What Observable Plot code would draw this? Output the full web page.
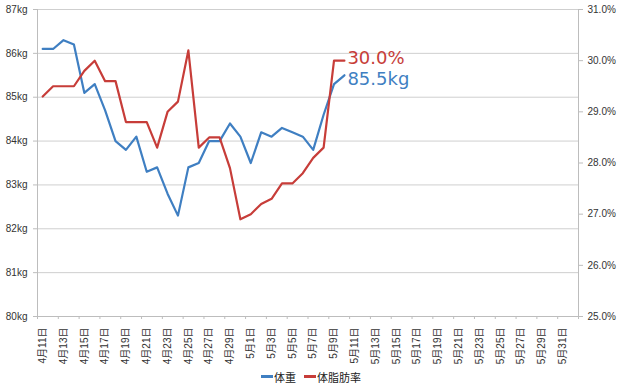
<!DOCTYPE html>
<html>
<head>
<meta charset="utf-8">
<script src="https://cdn.jsdelivr.net/npm/d3@7"></script>
<script src="https://cdn.jsdelivr.net/npm/@observablehq/plot@0.6"></script>
<style>
  html, body { margin: 0; padding: 0; background: #fff; }
  #chart { width: 620px; }
  .legend { display: flex; justify-content: center; align-items: center; height: 21px; font-family: "Liberation Sans", "Noto Sans CJK JP", sans-serif; font-size: 11px; color: #222; padding-left: 2px; }
  .legend .item { display: flex; align-items: center; margin: 0 4px; }
  .legend .sw { display: inline-block; width: 12px; height: 2.5px; margin-right: 1px; }
</style>
</head>
<body>
<div id="chart"></div>
<script>
const dateLabels = ["4月11日","4月13日","4月15日","4月17日","4月19日","4月21日","4月23日","4月25日","4月27日","4月29日","5月1日","5月3日","5月5日","5月7日","5月9日","5月11日","5月13日","5月15日","5月17日","5月19日","5月21日","5月23日","5月25日","5月27日","5月29日","5月31日"];
const dayCount = 52;
const weight = [86.1, 86.1, 86.3, 86.2, 85.1, 85.3, 84.7, 84.0, 83.8, 84.1, 83.3, 83.4, 82.8, 82.3, 83.4, 83.5, 84.0, 84.0, 84.4, 84.1, 83.5, 84.2, 84.1, 84.3, 84.2, 84.1, 83.8, 84.6, 85.3, 85.5];
const fat = [29.3, 29.5, 29.5, 29.5, 29.8, 30.0, 29.6, 29.6, 28.8, 28.8, 28.8, 28.3, 29.0, 29.2, 30.2, 28.3, 28.5, 28.5, 27.9, 26.9, 27.0, 27.2, 27.3, 27.6, 27.6, 27.8, 28.1, 28.3, 30.0, 30.0];
const kgTicks = [80, 81, 82, 83, 84, 85, 86, 87];
const pctTicks = [25, 26, 27, 28, 29, 30, 31];
const seriesNames = ["体重", "体脂肪率"];
const colors = ["#3f7fc2", "#c73d39"];

// map percentage axis (25–31) onto the kg axis (80–87)
const toKg = p => 80 + (p - 25) * 7 / 6;
const fromKg = k => 25 + (k - 80) * 6 / 7;

const chart = Plot.plot({
  width: 620,
  height: 366,
  marginLeft: 37,
  marginRight: 42,
  marginTop: 9,
  marginBottom: 50,
  style: { fontFamily: '"Liberation Sans", "Noto Sans CJK JP", sans-serif', fontSize: "10px", color: "#333", background: "#fff" },
  x: { type: "linear", domain: [-0.5, dayCount - 0.5] },
  y: { domain: [80, 87] },
  marks: [
    Plot.gridY(kgTicks, { stroke: "#cfcfcf", strokeOpacity: 1, strokeWidth: 1 }),
    Plot.ruleX([-0.5, dayCount - 0.5], { stroke: "#bdbdbd", strokeWidth: 1 }),
    Plot.ruleY([80], { stroke: "#bdbdbd", strokeWidth: 1 }),
    Plot.axisY({ ticks: kgTicks, tickFormat: d => d + "kg", tickSize: 4, tickPadding: 6, stroke: "#bdbdbd", label: null, anchor: "left" }),
    Plot.axisY({ ticks: pctTicks.map(toKg), tickFormat: d => fromKg(d).toFixed(1) + "%", tickSize: 4, tickPadding: 5, stroke: "#bdbdbd", label: null, anchor: "right" }),
    Plot.axisX({ ticks: d3.range(-0.5, dayCount, 2), tickFormat: () => "", tickSize: 3, stroke: "#bdbdbd", label: null }),
    Plot.axisX({ ticks: d3.range(0, dayCount, 2), tickFormat: i => dateLabels[i / 2], tickSize: 0, tickPadding: 11, tickRotate: -90, label: null, fontSize: 10 }),
    Plot.line(weight, { x: (d, i) => i, y: d => d, stroke: colors[0], strokeWidth: 2.2 }),
    Plot.line(fat, { x: (d, i) => i, y: d => toKg(d), stroke: colors[1], strokeWidth: 2.2 }),
    Plot.text([fat[fat.length - 1]], { x: () => fat.length - 1, y: d => toKg(d), text: d => d.toFixed(1) + "%", fill: colors[1], fontSize: 18, textAnchor: "start", lineAnchor: "bottom", dx: 3, dy: 3, fontFamily: '"DejaVu Sans", sans-serif' }),
    Plot.text([weight[weight.length - 1]], { x: () => weight.length - 1, y: d => d, text: d => d.toFixed(1) + "kg", fill: colors[0], fontSize: 18, textAnchor: "start", lineAnchor: "bottom", dx: 3, dy: 10, fontFamily: '"DejaVu Sans", sans-serif' })
  ]
});

const root = document.getElementById("chart");
root.appendChild(chart);

const legend = document.createElement("div");
legend.className = "legend";
seriesNames.forEach((name, i) => {
  const item = document.createElement("span");
  item.className = "item";
  const sw = document.createElement("span");
  sw.className = "sw";
  sw.style.background = colors[i];
  item.appendChild(sw);
  item.appendChild(document.createTextNode(name));
  legend.appendChild(item);
});
root.appendChild(legend);
</script>
</body>
</html>
